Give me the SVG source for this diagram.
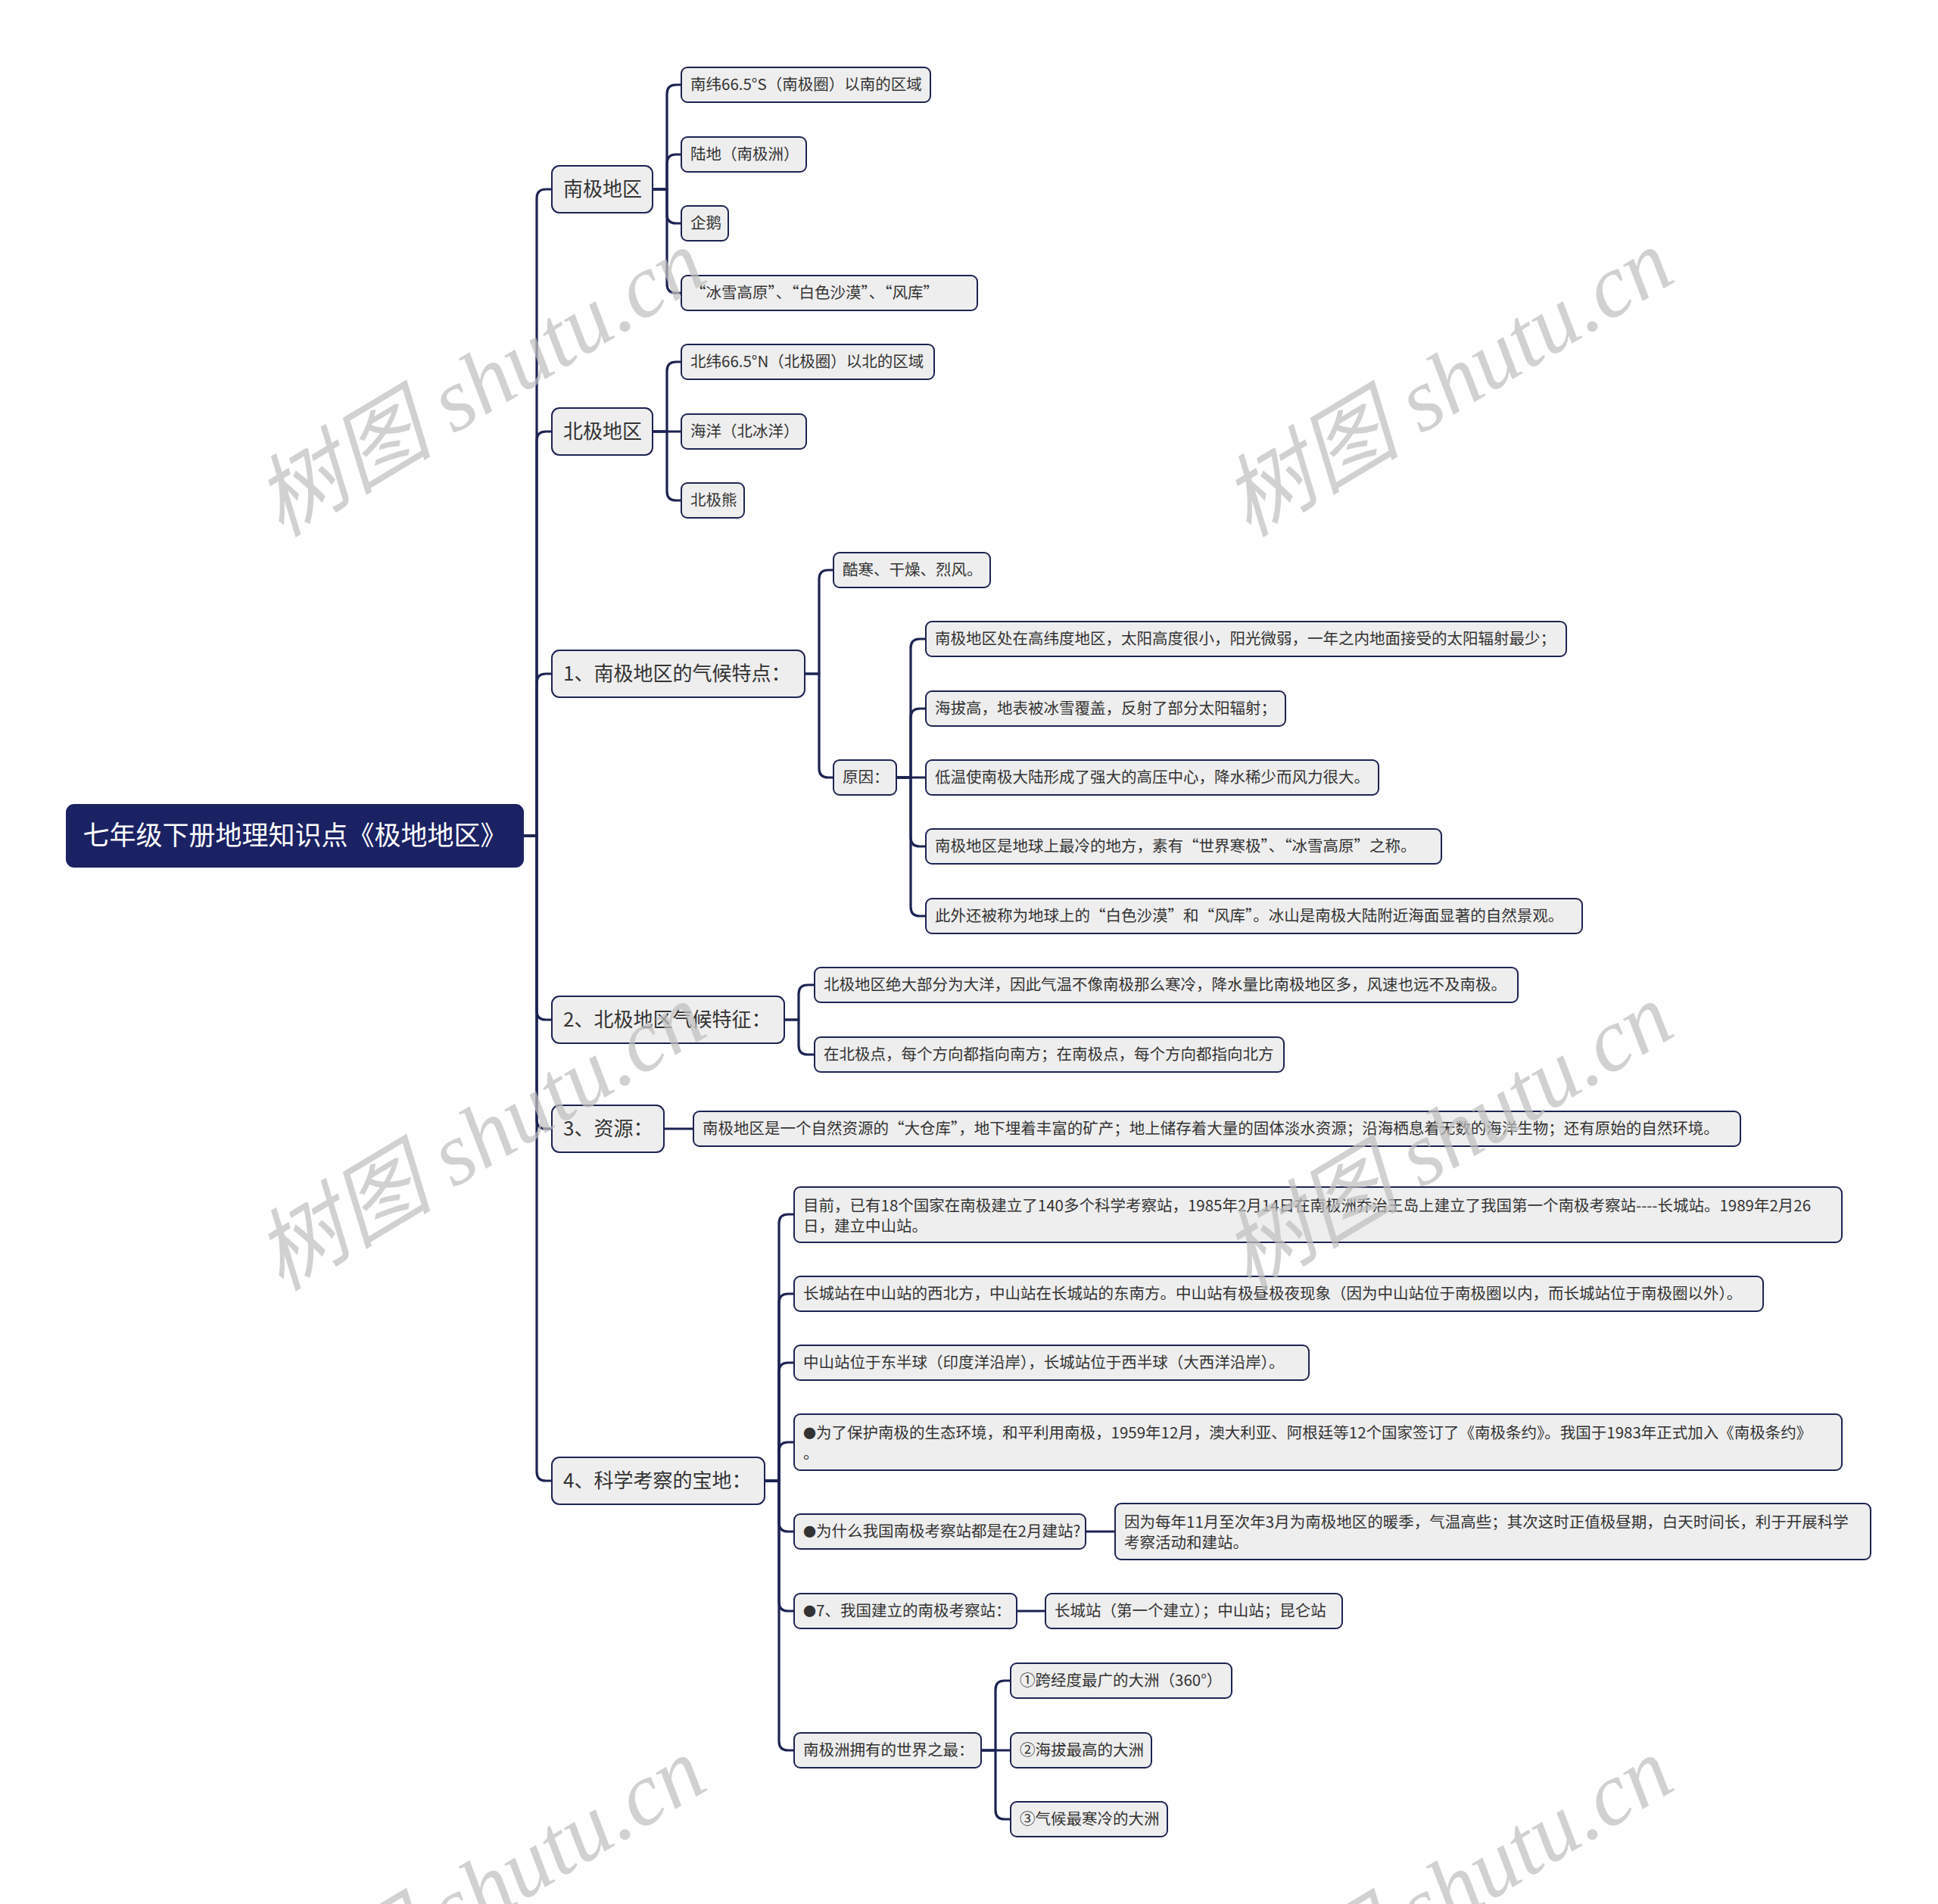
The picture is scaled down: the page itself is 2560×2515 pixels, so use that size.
<svg xmlns="http://www.w3.org/2000/svg" width="2560" height="2515" viewBox="0 0 2560 2515">
<style>
.bg{fill:#ffffff}
.n rect{fill:#eeeeee;stroke:#1e2452;stroke-width:2}
.n text{font-family:"Noto Sans CJK SC","Noto Sans",sans-serif;font-size:20.5px;fill:#333333}
.q{font-feature-settings:"fwid" 1}
.bul{font-size:17px}
.l1 rect{fill:#eeeeee;stroke:#1e2452;stroke-width:2}
.l1 text{font-family:"Noto Sans CJK SC","Noto Sans",sans-serif;font-size:26px;fill:#333333}
.root rect{fill:#1b2264;stroke:#1b2264;stroke-width:2}
.root text{font-family:"Noto Sans CJK SC","Noto Sans",sans-serif;font-size:35px;fill:#ffffff}
.c path{fill:none;stroke:#1d2453;stroke-width:3.2;stroke-linecap:round;stroke-linejoin:round}
.wm{font-family:"Liberation Serif","Noto Sans CJK SC",serif;font-style:italic;font-size:118px;fill:#c0c0c0;opacity:0.72}
</style>
<rect class="bg" x="0" y="0" width="2560" height="2515"/>

<g id="connectors" class="c">
<path d="M691,1104 H709 V262 Q709,250 721,250 H729"/>
<path d="M691,1104 H709 V582 Q709,570 721,570 H729"/>
<path d="M691,1104 H709 V902 Q709,890 721,890 H729"/>
<path d="M691,1104 H709 V1335 Q709,1347 721,1347 H729"/>
<path d="M691,1104 H709 V1479 Q709,1491 721,1491 H729"/>
<path d="M691,1104 H709 V1944 Q709,1956 721,1956 H729"/>
<path d="M862,250 H881 V124 Q881,112 893,112 H900"/>
<path d="M862,250 H881 V216 Q881,204 893,204 H900"/>
<path d="M862,250 H881 V283 Q881,295 893,295 H900"/>
<path d="M862,250 H881 V375 Q881,387 893,387 H900"/>
<path d="M862,570 H881 V490 Q881,478 893,478 H900"/>
<path d="M862,570 H900"/>
<path d="M862,570 H881 V649 Q881,661 893,661 H900"/>
<path d="M1063,890 H1082 V765 Q1082,753 1094,753 H1101"/>
<path d="M1063,890 H1082 V1015 Q1082,1027 1094,1027 H1101"/>
<path d="M1184,1027 H1203 V856 Q1203,844 1215,844 H1223"/>
<path d="M1184,1027 H1203 V948 Q1203,936 1215,936 H1223"/>
<path d="M1184,1027 H1223"/>
<path d="M1184,1027 H1203 V1106 Q1203,1118 1215,1118 H1223"/>
<path d="M1184,1027 H1203 V1198 Q1203,1210 1215,1210 H1223"/>
<path d="M1036,1347 H1055 V1313 Q1055,1301 1067,1301 H1076"/>
<path d="M1036,1347 H1055 V1381 Q1055,1393 1067,1393 H1076"/>
<path d="M877,1491 H916"/>
<path d="M1010,1956 H1029 V1616 Q1029,1604 1041,1604 H1049"/>
<path d="M1010,1956 H1029 V1721 Q1029,1709 1041,1709 H1049"/>
<path d="M1010,1956 H1029 V1812 Q1029,1800 1041,1800 H1049"/>
<path d="M1010,1956 H1029 V1917 Q1029,1905 1041,1905 H1049"/>
<path d="M1010,1956 H1029 V2011 Q1029,2023 1041,2023 H1049"/>
<path d="M1010,1956 H1029 V2116 Q1029,2128 1041,2128 H1049"/>
<path d="M1010,1956 H1029 V2300 Q1029,2312 1041,2312 H1049"/>
<path d="M1434,2023 H1473"/>
<path d="M1343,2128 H1381"/>
<path d="M1296,2312 H1315 V2232 Q1315,2220 1327,2220 H1335"/>
<path d="M1296,2312 H1335"/>
<path d="M1296,2312 H1315 V2391 Q1315,2403 1327,2403 H1335"/>
</g>

<g id="root" class="root">
<rect x="88" y="1063" width="603" height="82" rx="10"/>
<text x="389.5" y="1116" text-anchor="middle">七年级下册地理知识点《极地地区》</text>
</g>

<g id="n-nanji" class="l1"><rect x="729" y="219" width="133" height="62" rx="10"/><text x="744" y="259">南极地区</text></g>
<g id="n-beiji" class="l1"><rect x="729" y="539" width="133" height="62" rx="10"/><text x="744" y="579">北极地区</text></g>
<g id="n-1" class="l1"><rect x="729" y="859" width="334" height="62" rx="10"/><text x="744" y="899">1、南极地区的气候特点：</text></g>
<g id="n-2" class="l1"><rect x="729" y="1316" width="307" height="62" rx="10"/><text x="744" y="1356">2、北极地区气候特征：</text></g>
<g id="n-3" class="l1"><rect x="729" y="1460" width="148" height="62" rx="10"/><text x="744" y="1500">3、资源：</text></g>
<g id="n-4" class="l1"><rect x="729" y="1925" width="281" height="62" rx="10"/><text x="744" y="1965">4、科学考察的宝地：</text></g>

<g id="a1" class="n"><rect x="900" y="89" width="329" height="46" rx="8"/><text x="912" y="119">南纬66.5°S（南极圈）以南的区域</text></g>
<g id="a2" class="n"><rect x="900" y="181" width="165" height="46" rx="8"/><text x="912" y="211">陆地（南极洲）</text></g>
<g id="a3" class="n"><rect x="900" y="272" width="62" height="46" rx="8"/><text x="912" y="302">企鹅</text></g>
<g id="a4" class="n"><rect x="900" y="364" width="391" height="46" rx="8"/><text class="q" x="912" y="394">“冰雪高原”、“白色沙漠”、“风库”</text></g>

<g id="b1" class="n"><rect x="900" y="455" width="334" height="46" rx="8"/><text x="912" y="485">北纬66.5°N（北极圈）以北的区域</text></g>
<g id="b2" class="n"><rect x="900" y="547" width="165" height="46" rx="8"/><text x="912" y="577">海洋（北冰洋）</text></g>
<g id="b3" class="n"><rect x="900" y="638" width="83" height="46" rx="8"/><text x="912" y="668">北极熊</text></g>

<g id="c1" class="n"><rect x="1101" y="730" width="207" height="46" rx="8"/><text x="1113" y="760">酷寒、干燥、烈风。</text></g>
<g id="c2" class="n"><rect x="1101" y="1004" width="83" height="46" rx="8"/><text x="1113" y="1034">原因：</text></g>
<g id="c21" class="n"><rect x="1223" y="821" width="846" height="46" rx="8"/><text x="1235" y="851">南极地区处在高纬度地区，太阳高度很小，阳光微弱，一年之内地面接受的太阳辐射最少；</text></g>
<g id="c22" class="n"><rect x="1223" y="913" width="475" height="46" rx="8"/><text x="1235" y="943">海拔高，地表被冰雪覆盖，反射了部分太阳辐射；</text></g>
<g id="c23" class="n"><rect x="1223" y="1004" width="598" height="46" rx="8"/><text x="1235" y="1034">低温使南极大陆形成了强大的高压中心，降水稀少而风力很大。</text></g>
<g id="c24" class="n"><rect x="1223" y="1095" width="681" height="46" rx="8"/><text class="q" x="1235" y="1125">南极地区是地球上最冷的地方，素有“世界寒极”、“冰雪高原”之称。</text></g>
<g id="c25" class="n"><rect x="1223" y="1187" width="867" height="46" rx="8"/><text class="q" x="1235" y="1217">此外还被称为地球上的“白色沙漠”和“风库”。冰山是南极大陆附近海面显著的自然景观。</text></g>

<g id="d1" class="n"><rect x="1076" y="1278" width="929" height="46" rx="8"/><text x="1088" y="1308">北极地区绝大部分为大洋，因此气温不像南极那么寒冷，降水量比南极地区多，风速也远不及南极。</text></g>
<g id="d2" class="n"><rect x="1076" y="1370" width="620" height="46" rx="8"/><text x="1088" y="1400">在北极点，每个方向都指向南方；在南极点，每个方向都指向北方</text></g>

<g id="e1" class="n"><rect x="916" y="1468" width="1383" height="46" rx="8"/><text class="q" x="928" y="1498">南极地区是一个自然资源的“大仓库”，地下埋着丰富的矿产；地上储存着大量的固体淡水资源；沿海栖息着无数的海洋生物；还有原始的自然环境。</text></g>

<g id="f1" class="n"><rect x="1049" y="1568" width="1384" height="73" rx="8"/><text x="1061" y="1600">目前，已有18个国家在南极建立了140多个科学考察站，1985年2月14日在南极洲乔治王岛上建立了我国第一个南极考察站----长城站。1989年2月26</text><text x="1061" y="1627">日，建立中山站。</text></g>
<g id="f2" class="n"><rect x="1049" y="1686" width="1280" height="46" rx="8"/><text x="1061" y="1716">长城站在中山站的西北方，中山站在长城站的东南方。中山站有极昼极夜现象（因为中山站位于南极圈以内，而长城站位于南极圈以外）。</text></g>
<g id="f3" class="n"><rect x="1049" y="1777" width="680" height="46" rx="8"/><text x="1061" y="1807">中山站位于东半球（印度洋沿岸），长城站位于西半球（大西洋沿岸）。</text></g>
<g id="f4" class="n"><rect x="1049" y="1868" width="1384" height="74" rx="8"/><text x="1061" y="1900"><tspan class="bul">●</tspan>为了保护南极的生态环境，和平利用南极，1959年12月，澳大利亚、阿根廷等12个国家签订了《南极条约》。我国于1983年正式加入《南极条约》</text><text x="1061" y="1927">。</text></g>
<g id="f5" class="n"><rect x="1049" y="2000" width="385" height="46" rx="8"/><text x="1061" y="2030"><tspan class="bul">●</tspan>为什么我国南极考察站都是在2月建站?</text></g>
<g id="f51" class="n"><rect x="1473" y="1986" width="998" height="74" rx="8"/><text x="1485" y="2018">因为每年11月至次年3月为南极地区的暖季，气温高些；其次这时正值极昼期，白天时间长，利于开展科学</text><text x="1485" y="2045">考察活动和建站。</text></g>
<g id="f6" class="n"><rect x="1049" y="2105" width="294" height="46" rx="8"/><text x="1061" y="2135"><tspan class="bul">●</tspan>7、我国建立的南极考察站：</text></g>
<g id="f61" class="n"><rect x="1381" y="2105" width="392" height="46" rx="8"/><text x="1393" y="2135">长城站（第一个建立）；中山站；昆仑站</text></g>
<g id="f7" class="n"><rect x="1049" y="2289" width="247" height="46" rx="8"/><text x="1061" y="2319">南极洲拥有的世界之最：</text></g>
<g id="f71" class="n"><rect x="1335" y="2197" width="292" height="46" rx="8"/><text x="1347" y="2227">①跨经度最广的大洲（360°）</text></g>
<g id="f72" class="n"><rect x="1335" y="2289" width="186" height="46" rx="8"/><text x="1347" y="2319">②海拔最高的大洲</text></g>
<g id="f73" class="n"><rect x="1335" y="2380" width="207" height="46" rx="8"/><text x="1347" y="2410">③气候最寒冷的大洲</text></g>

<g id="watermarks">
<text class="wm" x="655" y="540" text-anchor="middle" transform="rotate(-31 655 540)">树图 shutu.cn</text>
<text class="wm" x="1933" y="540" text-anchor="middle" transform="rotate(-31 1933 540)">树图 shutu.cn</text>
<text class="wm" x="655" y="1536" text-anchor="middle" transform="rotate(-31 655 1536)">树图 shutu.cn</text>
<text class="wm" x="1933" y="1536" text-anchor="middle" transform="rotate(-31 1933 1536)">树图 shutu.cn</text>
<text class="wm" x="655" y="2532" text-anchor="middle" transform="rotate(-31 655 2532)">树图 shutu.cn</text>
<text class="wm" x="1933" y="2532" text-anchor="middle" transform="rotate(-31 1933 2532)">树图 shutu.cn</text>
</g>
</svg>
